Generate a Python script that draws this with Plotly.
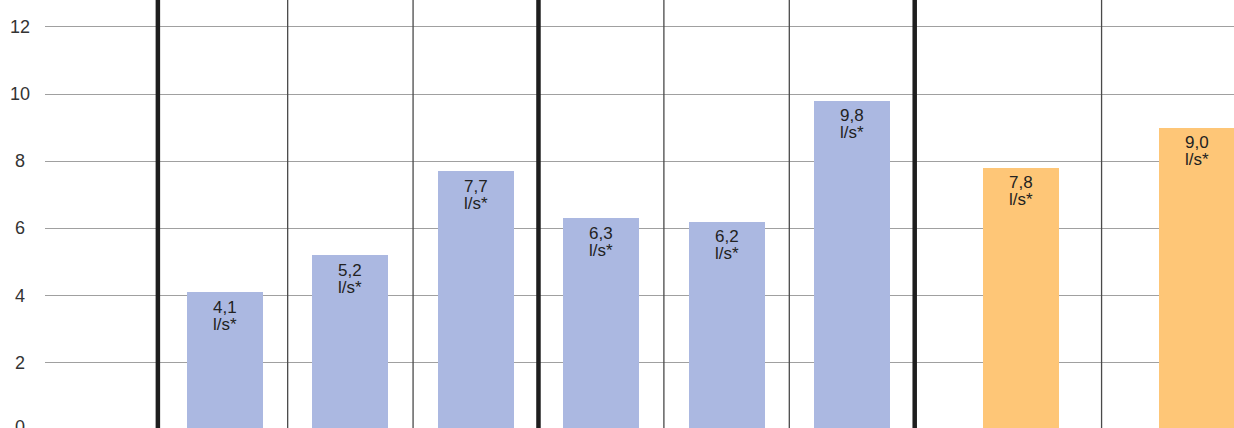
import plotly.graph_objects as go

# ---- data ----
values = [4.1, 5.2, 7.7, 6.3, 6.2, 9.8, 7.8, 9.0]
value_labels = ["4,1", "5,2", "7,7", "6,3", "6,2", "9,8", "7,8", "9,0"]
unit_label = "l/s*"
groups = ["blue", "blue", "blue", "blue", "blue", "blue", "orange", "orange"]
y_ticks = [0, 2, 4, 6, 8, 10, 12]

# ---- layout config (positions / styles) ----
slot_pos = [0, 1, 2, 3, 4, 5, 6.35, 7.75]
thick_seps = [-0.535, 2.5, 5.5]
thin_seps = [0.5, 1.5, 3.5, 4.5, 6.99]
colors = {"blue": "#abb8e1", "orange": "#fec677"}
W, H = 1234, 428
ML = 45
x_range = [-1.435, 8.046]
y_range = [0.06, 12.8]
FONT = "Liberation Sans, Arial, sans-serif"

fig = go.Figure()
fig.add_trace(go.Bar(
    x=slot_pos, y=values, width=0.605,
    marker=dict(color=[colors[g] for g in groups], line=dict(width=0)),
    hoverinfo="skip", showlegend=False,
))

shapes = []
for s in thick_seps:
    shapes.append(dict(type="line", xref="x", yref="paper", x0=s, x1=s, y0=0, y1=1,
                       line=dict(color="#1e1e1e", width=4.5), layer="above"))
for s in thin_seps:
    shapes.append(dict(type="line", xref="x", yref="paper", x0=s, x1=s, y0=0, y1=1,
                       line=dict(color="#4a4a4a", width=1.3), layer="above"))

annotations = []
for xp, v, lab in zip(slot_pos, values, value_labels):
    annotations.append(dict(x=xp, y=v, xref="x", yref="y", text=lab,
                            showarrow=False, yanchor="middle", xanchor="center", yshift=-15,
                            font=dict(family=FONT, size=17, color="#222222")))
    annotations.append(dict(x=xp, y=v, xref="x", yref="y", text=unit_label,
                            showarrow=False, yanchor="middle", xanchor="center", yshift=-32,
                            font=dict(family=FONT, size=17, color="#222222")))
plot_w = W - ML
for t in y_ticks:
    annotations.append(dict(x=(20 - ML) / plot_w, y=(t - y_range[0]) / (y_range[1] - y_range[0]),
                            xref="paper", yref="paper", text=str(t),
                            showarrow=False, xanchor="center", yanchor="middle",
                            yshift=3 if t == 0 else 0,
                            font=dict(family=FONT, size=18, color="#333333")))

fig.update_layout(
    width=W, height=H,
    margin=dict(l=ML, r=0, t=0, b=0),
    paper_bgcolor="white", plot_bgcolor="white",
    xaxis=dict(range=x_range, showgrid=False, zeroline=False, showticklabels=False,
               showline=False, fixedrange=True),
    yaxis=dict(range=y_range, tickvals=y_ticks, showticklabels=False, showgrid=True,
               gridcolor="#a0a0a0", gridwidth=1, zeroline=False, showline=False, fixedrange=True),
    shapes=shapes, annotations=annotations, bargap=0,
)
fig.write_html("out.html", config={"displayModeBar": False},
               post_script="document.body.style.margin='0';document.body.style.overflow='hidden';")
